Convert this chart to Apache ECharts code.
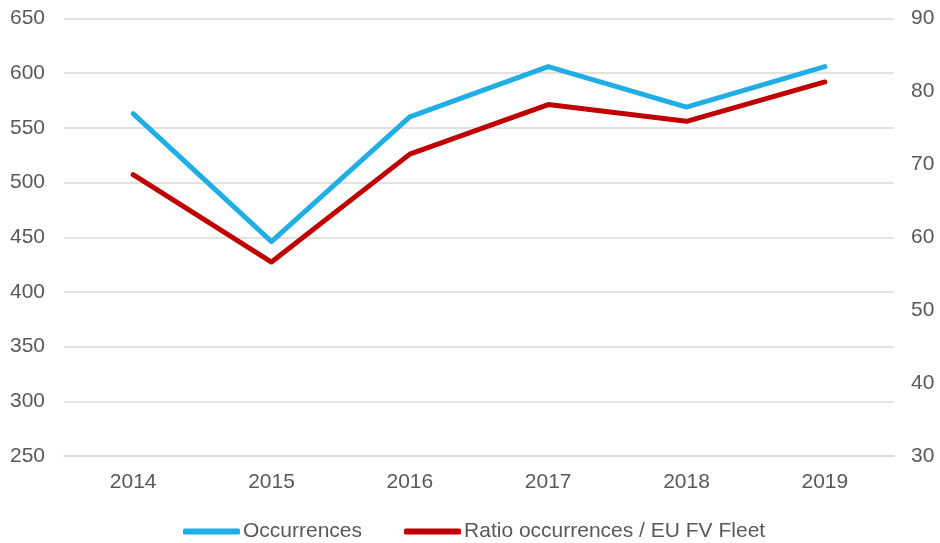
<!DOCTYPE html>
<html>
<head>
<meta charset="utf-8">
<script src="https://cdn.jsdelivr.net/npm/echarts@6/dist/echarts.min.js"></script>
<style>
  html, body { margin: 0; padding: 0; background: #ffffff; }
  #chart { width: 940px; height: 543px; }
</style>
</head>
<body>
<div id="chart"></div>
<script>
// Years on the category axis
const years = ['2014', '2015', '2016', '2017', '2018', '2019'];
// Number of occurrences (left axis)
const occurrences = [563, 446, 560, 606, 569, 606];
// Occurrences relative to the EU fishing vessel fleet (right axis)
const ratioFleet = [68.6, 56.6, 71.4, 78.2, 75.9, 81.3];

const textColor = '#595959';
const gridColor = '#d9d9d9';
const fontFamily = '"Liberation Sans", Arial, sans-serif';

const chart = echarts.init(document.getElementById('chart'), null, { renderer: 'canvas' });

chart.setOption({
  animation: false,
  textStyle: { fontFamily: fontFamily },
  grid: { left: 64, right: 46, top: 18.5, bottom: 87 },
  legend: {
    top: 516,
    left: 178,
    itemWidth: 57,
    itemHeight: 6,
    itemGap: 42,
    icon: 'roundRect',
    textStyle: { color: textColor, fontSize: 21, fontFamily: fontFamily, padding: [0, 0, 0, -2] },
    data: ['Occurrences', 'Ratio occurrences / EU FV Fleet']
  },
  xAxis: {
    type: 'category',
    data: years,
    boundaryGap: true,
    axisLine: { show: true, lineStyle: { color: gridColor, width: 1.5 } },
    axisTick: { show: false },
    axisLabel: { color: textColor, fontSize: 21, margin: 16 }
  },
  yAxis: [
    {
      type: 'value',
      min: 250,
      max: 650,
      interval: 50,
      axisLine: { show: false },
      axisTick: { show: false },
      axisLabel: { color: textColor, fontSize: 21, margin: 19 },
      splitLine: { lineStyle: { color: gridColor, width: 1.5 } }
    },
    {
      type: 'value',
      min: 30,
      max: 90,
      interval: 10,
      position: 'right',
      axisLine: { show: false },
      axisTick: { show: false },
      axisLabel: { color: textColor, fontSize: 21, margin: 17 },
      splitLine: { show: false }
    }
  ],
  series: [
    {
      name: 'Occurrences',
      type: 'line',
      yAxisIndex: 0,
      data: occurrences,
      symbol: 'none',
      color: '#21AEE5',
      lineStyle: { width: 5, cap: 'round', join: 'round' }
    },
    {
      name: 'Ratio occurrences / EU FV Fleet',
      type: 'line',
      yAxisIndex: 1,
      data: ratioFleet,
      symbol: 'none',
      color: '#C00000',
      lineStyle: { width: 5, cap: 'round', join: 'round' }
    }
  ]
});
</script>
</body>
</html>
